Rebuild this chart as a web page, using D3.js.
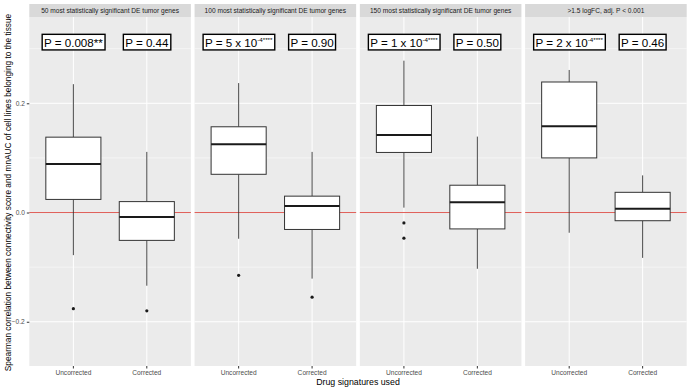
<!DOCTYPE html>
<html>
<head>
<meta charset="UTF-8">
<script src="https://d3js.org/d3.v7.min.js"></script>
<style>
  body { margin: 0; background: #fff; font-family: "Liberation Sans", Arial, sans-serif; }
  svg { display: block; }
</style>
</head>
<body>
<div id="chart"></div>
<script>
// facets and groups
const facets = [
  "50 most statistically significant DE tumor genes",
  "100 most statistically significant DE tumor genes",
  "150 most statistically significant DE tumor genes",
  ">1.5 logFC, adj. P < 0.001"
];
const groups = ["Uncorrected", "Corrected"];

// box stats per facet: [lower whisker, Q1, median, Q3, upper whisker]
const uncorrectedStats = [
  [-0.078, 0.024, 0.089, 0.138, 0.235],
  [-0.048, 0.070, 0.125, 0.157, 0.237],
  [0.009, 0.110, 0.142, 0.196, 0.278],
  [-0.037, 0.100, 0.158, 0.239, 0.261]
];
const correctedStats = [
  [-0.134, -0.051, -0.008, 0.020, 0.111],
  [-0.121, -0.031, 0.012, 0.030, 0.111],
  [-0.103, -0.030, 0.019, 0.050, 0.139],
  [-0.083, -0.015, 0.007, 0.037, 0.068]
];
const uncorrectedOutliers = [[-0.176], [-0.115], [-0.019, -0.047], []];
const correctedOutliers = [[-0.180], [-0.155], [], []];

// p-value labels: [main, superscript]
const uncorrectedP = [["P = 0.008**", ""], ["P = 5 x 10", "-4****"], ["P = 1 x 10", "-4****"], ["P = 2 x 10", "-4****"]];
const correctedP = [["P = 0.44", ""], ["P = 0.90", ""], ["P = 0.50", ""], ["P = 0.46", ""]];
const labelY = 0.312;

const yTicks = [-0.2, 0.0, 0.2];
const yMinor = [-0.1, 0.1, 0.3];

const W = 691, H = 389;
const plotLeft = 29.3, plotRight = 686.7, gap = 3.7;
const panelTop = 17, panelBottom = 366, stripTop = 4;
const pw = (plotRight - plotLeft - gap * (facets.length - 1)) / facets.length;

const svg = d3.select('#chart').append('svg')
  .attr('width', W).attr('height', H);

const y = d3.scaleLinear().domain([-0.281, 0.358]).range([panelBottom, panelTop]);
const x = d3.scaleBand().domain(groups).range([0, pw]).paddingInner(0.25).paddingOuter(0.225);

const font = '"Liberation Sans", Arial, sans-serif';

facets.forEach((f, i) => {
  const g = svg.append('g').attr('transform', `translate(${plotLeft + i * (pw + gap)},0)`);

  // strip
  g.append('rect').attr('x', 0).attr('y', stripTop).attr('width', pw).attr('height', panelTop - stripTop)
    .attr('fill', '#d9d9d9');
  g.append('text').attr('x', pw / 2).attr('y', (stripTop + panelTop) / 2 + 2.3)
    .attr('text-anchor', 'middle').attr('font-size', 6.6).attr('fill', '#1a1a1a')
    .attr('font-family', font).text(f);

  // panel bg
  g.append('rect').attr('x', 0).attr('y', panelTop).attr('width', pw).attr('height', panelBottom - panelTop)
    .attr('fill', '#ebebeb');

  // grid
  g.selectAll('.minor').data(yMinor).enter().append('line')
    .attr('x1', 0).attr('x2', pw).attr('y1', d => y(d)).attr('y2', d => y(d))
    .attr('stroke', '#fff').attr('stroke-width', 0.5);
  g.selectAll('.major').data(yTicks).enter().append('line')
    .attr('x1', 0).attr('x2', pw).attr('y1', d => y(d)).attr('y2', d => y(d))
    .attr('stroke', '#fff').attr('stroke-width', 1);
  g.selectAll('.vgrid').data(groups).enter().append('line')
    .attr('x1', d => x(d) + x.bandwidth() / 2).attr('x2', d => x(d) + x.bandwidth() / 2)
    .attr('y1', panelTop).attr('y2', panelBottom)
    .attr('stroke', '#fff').attr('stroke-width', 1);

  // x axis
  const xAxis = g.append('g').attr('transform', `translate(0,${panelBottom})`)
    .call(d3.axisBottom(x).tickSize(2.5).tickPadding(2));
  xAxis.select('.domain').remove();
  xAxis.selectAll('line').attr('stroke', '#333');
  xAxis.selectAll('text').attr('font-size', 6.6).attr('fill', '#4d4d4d').attr('font-family', font);

  // reference line
  g.append('line').attr('x1', 0).attr('x2', pw).attr('y1', y(0)).attr('y2', y(0))
    .attr('stroke', '#e0605a').attr('stroke-width', 1);

  const rows = [
    { grp: groups[0], s: uncorrectedStats[i], out: uncorrectedOutliers[i], p: uncorrectedP[i] },
    { grp: groups[1], s: correctedStats[i], out: correctedOutliers[i], p: correctedP[i] }
  ];

  rows.forEach(r => {
    const cx = x(r.grp) + x.bandwidth() / 2;
    const [lo, q1, med, q3, hi] = r.s;
    // whiskers
    g.append('line').attr('x1', cx).attr('x2', cx).attr('y1', y(hi)).attr('y2', y(q3))
      .attr('stroke', '#333').attr('stroke-width', 0.9);
    g.append('line').attr('x1', cx).attr('x2', cx).attr('y1', y(q1)).attr('y2', y(lo))
      .attr('stroke', '#333').attr('stroke-width', 0.9);
    // box
    g.append('rect').attr('x', x(r.grp)).attr('y', y(q3))
      .attr('width', x.bandwidth()).attr('height', y(q1) - y(q3))
      .attr('fill', '#fff').attr('stroke', '#333').attr('stroke-width', 1);
    g.append('line').attr('x1', x(r.grp)).attr('x2', x(r.grp) + x.bandwidth())
      .attr('y1', y(med)).attr('y2', y(med))
      .attr('stroke', '#1a1a1a').attr('stroke-width', 2);
    // outliers
    g.selectAll(null).data(r.out).enter().append('circle')
      .attr('cx', cx).attr('cy', d => y(d)).attr('r', 1.6).attr('fill', '#1a1a1a');

    // p label
    const lg = g.append('g');
    const t = lg.append('text').attr('x', cx).attr('y', y(labelY) + 4.4)
      .attr('text-anchor', 'middle').attr('font-size', 11.6).attr('fill', '#000')
      .attr('font-family', font);
    t.append('tspan').text(r.p[0]);
    if (r.p[1]) {
      t.append('tspan').attr('font-size', 6.2).attr('dy', -4.8).text(r.p[1]);
    }
    const bb = t.node().getBBox();
    lg.insert('rect', 'text')
      .attr('x', bb.x - 1.8).attr('y', y(labelY) - 7.8)
      .attr('width', bb.width + 3.6).attr('height', 15.6)
      .attr('fill', '#fff').attr('stroke', '#000').attr('stroke-width', 1.4);
  });
});

// y axis
const yAxis = svg.append('g').attr('transform', `translate(${plotLeft},0)`)
  .call(d3.axisLeft(y).tickValues(yTicks).tickFormat(d3.format('.1f')).tickSize(2.5).tickPadding(2));
yAxis.select('.domain').remove();
yAxis.selectAll('line').attr('stroke', '#333');
yAxis.selectAll('text').attr('font-size', 6.6).attr('fill', '#4d4d4d').attr('font-family', font);

// axis titles
svg.append('text').attr('x', (plotLeft + plotRight) / 2).attr('y', 385)
  .attr('text-anchor', 'middle').attr('font-size', 8.8).attr('fill', '#000').attr('font-family', font)
  .text('Drug signatures used');
svg.append('text').attr('transform', `translate(10.5,${(panelTop + panelBottom) / 2 + 1}) rotate(-90)`)
  .attr('text-anchor', 'middle').attr('font-size', 8.3).attr('fill', '#000').attr('font-family', font)
  .text('Spearman correlation between connectivity score and mnAUC of cell lines belonging to the tissue');
</script>
</body>
</html>
